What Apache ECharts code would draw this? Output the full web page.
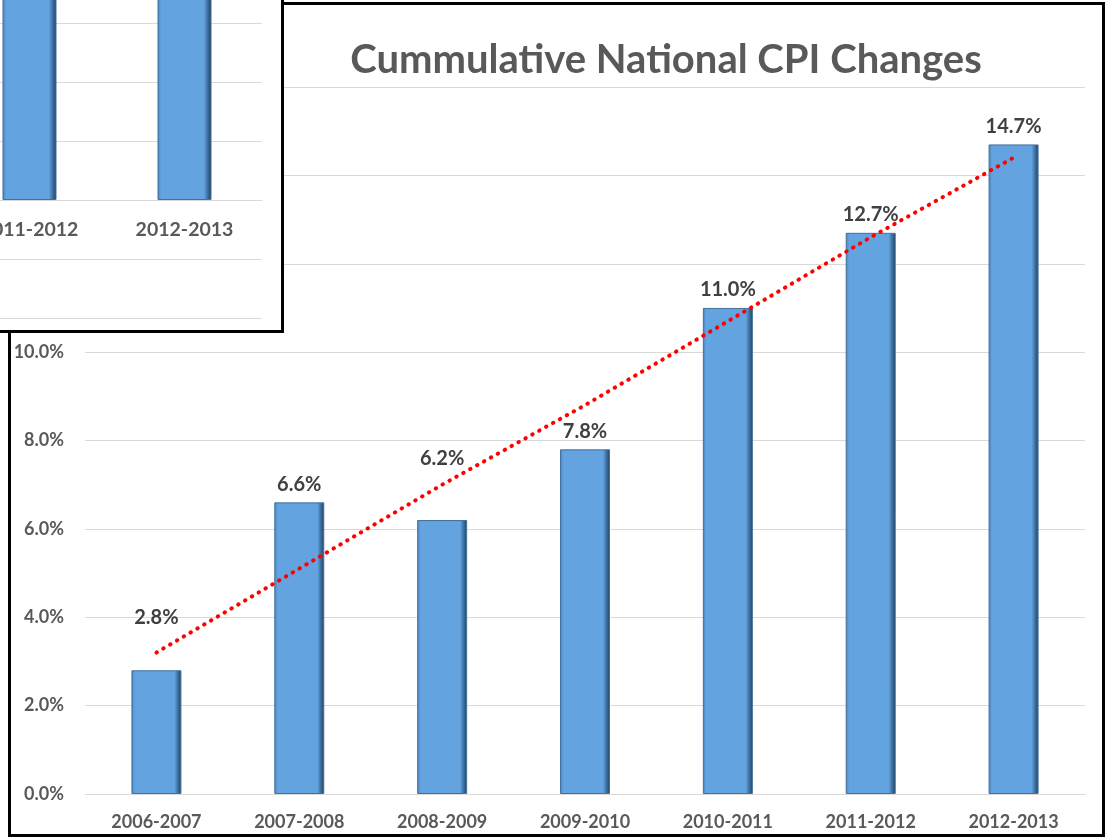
<!DOCTYPE html>
<html>
<head>
<meta charset="utf-8">
<script src="https://cdn.jsdelivr.net/npm/echarts@6/dist/echarts.min.js"></script>
<style>
  html, body { margin: 0; padding: 0; background: #fff; }
  #chart { width: 1106px; height: 839px; }
</style>
</head>
<body>
<div id="chart"></div>
<script>
// chart data
const periods = ['2006-2007', '2007-2008', '2008-2009', '2009-2010', '2010-2011', '2011-2012', '2012-2013'];
const cpiChange = [2.8, 6.6, 6.2, 7.8, 11.0, 12.7, 14.7];
const trendLine = [3.2, 5.1, 7.0, 8.8, 10.7, 12.6, 14.4];
const yTicks = [0, 2, 4, 6, 8, 10, 12, 14, 16];
// the zoomed copy in the top-left corner shows the last two periods
const insetFrom = 5;

const FONT = 'Lato, "Open Sans", sans-serif';
const GREY = '#595959';

const barStyle = {
  color: new echarts.graphic.LinearGradient(0, 0, 1, 0, [
    { offset: 0, color: '#4c84ba' },
    { offset: 0.07, color: '#62a3e0' },
    { offset: 0.86, color: '#62a3e0' },
    { offset: 0.93, color: '#3d6f9f' },
    { offset: 1, color: '#213f5c' }
  ]),
  borderColor: '#41719c',
  borderWidth: 1
};

// labels 2.8% and 6.2% sit higher in the original so the trend line stays clear
const labelLift = { 0: 35, 2: 43 };

const chart = echarts.init(document.getElementById('chart'));

chart.setOption({
  animation: false,
  backgroundColor: '#fff',
  title: {
    text: 'Cummulative National CPI Changes',
    left: 666,
    top: 40,
    padding: 0,
    textAlign: 'center',
    textStyle: { fontFamily: FONT, fontSize: 40, fontWeight: 'bold', color: GREY }
  },
  graphic: [
    {
      type: 'rect', z: 5,
      shape: { x: 9.5, y: 3.5, width: 1094, height: 832 },
      style: { fill: null, stroke: '#000', lineWidth: 3 }
    },
    {
      type: 'rect', z: 10,
      shape: { x: -10, y: -10, width: 292.5, height: 341.5 },
      style: { fill: '#fff', stroke: '#000', lineWidth: 3 }
    }
  ],
  grid: [
    { left: 85, right: 21, top: 87, bottom: 45, outerBoundsMode: 'none' },
    { left: -48, top: 23, width: 310, height: 295, outerBoundsMode: 'none' }
  ],
  xAxis: [
    {
      type: 'category', gridIndex: 0, data: periods,
      axisLine: { lineStyle: { color: '#d9d9d9' } },
      axisTick: { show: false },
      axisLabel: { margin: 19, fontFamily: FONT, fontSize: 18, fontWeight: 'bold', color: GREY }
    },
    {
      type: 'category', gridIndex: 1, z: 11, data: periods.slice(insetFrom),
      // axis sits on the 0% line, 118px above the bottom of this grid
      offset: -118,
      axisLine: { onZero: false, lineStyle: { color: '#d9d9d9' } },
      axisTick: { show: false },
      axisLabel: { margin: 20, fontFamily: FONT, fontSize: 19.5, fontWeight: 'bold', color: GREY }
    }
  ],
  yAxis: [
    {
      type: 'value', gridIndex: 0,
      min: yTicks[0], max: yTicks[yTicks.length - 1], interval: 2,
      axisLine: { show: false },
      axisTick: { show: false },
      splitLine: { lineStyle: { color: '#d9d9d9' } },
      axisLabel: {
        margin: 21, fontFamily: FONT, fontSize: 18, fontWeight: 'bold', color: GREY,
        formatter: v => v.toFixed(1) + '%'
      }
    },
    {
      type: 'value', gridIndex: 1, z: 11,
      min: -4, max: 6, interval: 2,
      axisLine: { show: false },
      axisTick: { show: false },
      axisLabel: { show: false },
      splitLine: { lineStyle: { color: '#d9d9d9' } }
    }
  ],
  series: [
    {
      name: 'CPI', type: 'bar', xAxisIndex: 0, yAxisIndex: 0,
      barWidth: 50,
      itemStyle: barStyle,
      data: cpiChange.map((v, i) => ({
        value: v,
        label: labelLift[i] ? { offset: [0, -labelLift[i]] } : undefined
      })),
      label: {
        show: true, position: 'top', distance: 8,
        fontFamily: FONT, fontSize: 20, fontWeight: 'bold', color: '#404040',
        formatter: p => p.value.toFixed(1) + '%'
      }
    },
    {
      name: 'Trend', type: 'line', xAxisIndex: 0, yAxisIndex: 0,
      data: trendLine,
      symbol: 'none',
      z: 3,
      lineStyle: { color: '#ff0000', width: 4, type: [0.5, 7.4], cap: 'round' }
    },
    {
      name: 'CPI inset', type: 'bar', xAxisIndex: 1, yAxisIndex: 1,
      z: 12, clip: false,
      barWidth: 54,
      itemStyle: barStyle,
      data: cpiChange.slice(insetFrom)
    }
  ]
});
</script>
</body>
</html>
